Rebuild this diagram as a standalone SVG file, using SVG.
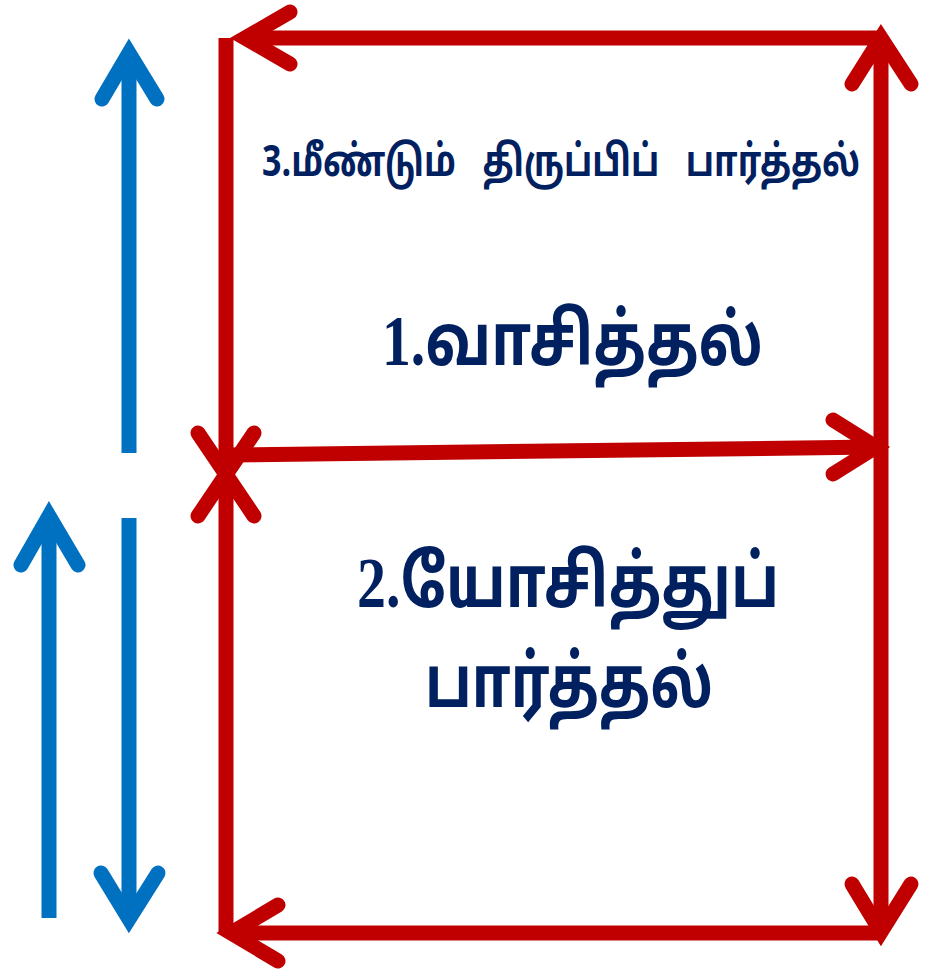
<svg xmlns="http://www.w3.org/2000/svg" width="932" height="970" viewBox="0 0 932 970">
<style>
.red{stroke:#C00000;stroke-width:15;fill:none;stroke-linecap:butt}
.rh{stroke:#C00000;stroke-width:15;fill:none;stroke-linecap:round;stroke-linejoin:miter;stroke-miterlimit:10}
.blue{stroke:#0070C0;stroke-width:15;fill:none;stroke-linecap:butt}
.bh{stroke:#0070C0;stroke-width:15;fill:none;stroke-linecap:round;stroke-linejoin:miter;stroke-miterlimit:10}
.t{fill:#002060;font-weight:bold}
.small{font-family:'Noto Sans Tamil','Latha','Noto Sans','DejaVu Sans',sans-serif;font-size:43px}
.big{font-family:'Liberation Serif','Noto Sans Tamil','Latha','Noto Serif Tamil',serif;font-size:72px}
</style>
<rect width="932" height="970" fill="#ffffff"/>
<g id="connectors">
<line class="red" x1="880" y1="38" x2="245" y2="38"/>
<polyline class="rh" points="290,12 245,38 290,64"/>
<line class="red" x1="226" y1="38" x2="226" y2="932"/>
<line class="red" x1="881" y1="38" x2="881" y2="932"/>
<polyline class="rh" points="852,84 881,38 911,84"/>
<polyline class="rh" points="852,884 881,932 911,884"/>
<line class="red" x1="880" y1="933" x2="231" y2="933"/>
<polyline class="rh" points="278,905 231,933 278,961"/>
<line class="red" x1="226" y1="455" x2="876" y2="447"/>
<polyline class="rh" points="833,420 876,447 833,474"/>
<line class="rh" x1="198" y1="433" x2="254" y2="516"/>
<line class="rh" x1="254" y1="433" x2="198" y2="516"/>
<line class="blue" x1="129" y1="53" x2="129" y2="453"/>
<polyline class="bh" points="102,99 129,53 157,99"/>
<line class="blue" x1="129" y1="518" x2="129" y2="919"/>
<polyline class="bh" points="101,873 129,919 158,873"/>
<line class="blue" x1="49" y1="516" x2="49" y2="918"/>
<polyline class="bh" points="21,565 49,516 78,565"/>
</g>
<g id="node-review">
<text class="t small" x="262" y="176" textLength="598" lengthAdjust="spacingAndGlyphs" xml:space="preserve">3.மீண்டும்   திருப்பிப்   பார்த்தல்</text>
</g>
<g id="node-read">
<text class="t big" x="382" y="365" textLength="381" lengthAdjust="spacingAndGlyphs">1.வாசித்தல்</text>
</g>
<g id="node-think">
<text class="t big" x="357" y="607" textLength="422" lengthAdjust="spacingAndGlyphs">2.யோசித்துப்</text>
<text class="t big" x="425" y="707" textLength="288" lengthAdjust="spacingAndGlyphs">பார்த்தல்</text>
</g>
</svg>
